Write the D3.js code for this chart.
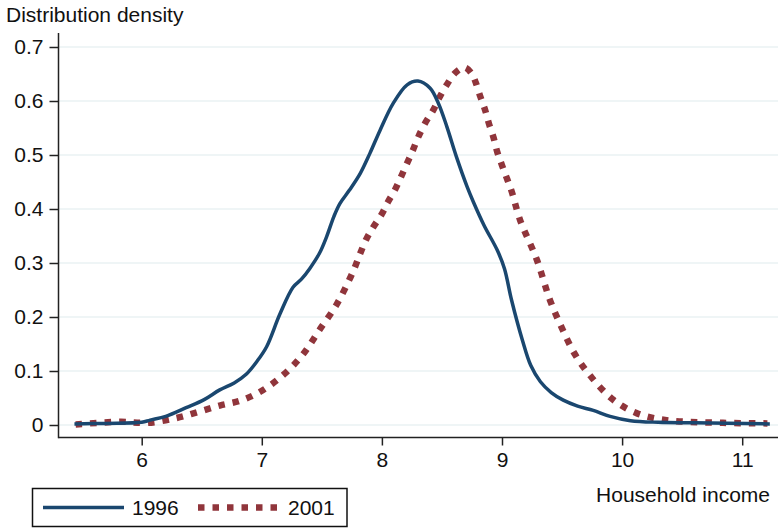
<!DOCTYPE html>
<html>
<head>
<meta charset="utf-8">
<script src="https://cdn.jsdelivr.net/npm/d3@7"></script>
<style>
  html, body { margin: 0; padding: 0; background: #fff; }
  svg { display: block; font-family: "Liberation Sans", Arial, Helvetica, sans-serif; }
</style>
</head>
<body>
<svg id="chart" width="778" height="529"></svg>
<script>
// Kernel density of log household income, 1996 vs 2001
const income1996 = [5.44, 5.7, 6.0, 6.07, 6.2, 6.37, 6.52, 6.65, 6.77, 6.87, 6.96, 7.04, 7.15, 7.26, 7.33, 7.40, 7.48, 7.54, 7.60, 7.65, 7.73, 7.82, 7.90, 7.985, 8.095, 8.21, 8.30, 8.40, 8.47, 8.54, 8.62, 8.71, 8.76, 8.85, 8.96, 9.02, 9.08, 9.17, 9.24, 9.32, 9.41, 9.51, 9.63, 9.76, 9.90, 10.07, 10.3, 10.6, 11.23];
const density1996 = [0.002, 0.003, 0.005, 0.009, 0.016, 0.032, 0.047, 0.065, 0.078, 0.094, 0.118, 0.145, 0.205, 0.255, 0.270, 0.290, 0.318, 0.349, 0.386, 0.410, 0.435, 0.466, 0.503, 0.546, 0.596, 0.630, 0.637, 0.624, 0.596, 0.553, 0.497, 0.441, 0.414, 0.370, 0.324, 0.290, 0.231, 0.157, 0.110, 0.080, 0.060, 0.046, 0.035, 0.027, 0.016, 0.008, 0.005, 0.004, 0.002];

const income2001 = [5.45, 5.82, 6.05, 6.29, 6.47, 6.65, 6.82, 6.99, 7.18, 7.34, 7.48, 7.62, 7.72, 7.78, 7.82, 7.87, 7.93, 8.00, 8.05, 8.11, 8.16, 8.21, 8.26, 8.30, 8.36, 8.43, 8.48, 8.54, 8.61, 8.69, 8.75, 8.78, 8.82, 8.86, 8.89, 8.93, 8.96, 9.00, 9.04, 9.08, 9.15, 9.29, 9.40, 9.50, 9.61, 9.75, 9.93, 10.12, 10.37, 10.84, 11.21];
const density2001 = [0.001, 0.006, 0.004, 0.013, 0.024, 0.036, 0.045, 0.062, 0.093, 0.130, 0.176, 0.222, 0.265, 0.295, 0.318, 0.344, 0.367, 0.391, 0.413, 0.436, 0.460, 0.485, 0.510, 0.532, 0.559, 0.584, 0.607, 0.630, 0.652, 0.662, 0.650, 0.635, 0.608, 0.583, 0.559, 0.532, 0.506, 0.481, 0.457, 0.433, 0.380, 0.306, 0.231, 0.179, 0.130, 0.087, 0.046, 0.022, 0.009, 0.004, 0.003];

const xTicks = [6, 7, 8, 9, 10, 11];
const yTicks = [0, 0.1, 0.2, 0.3, 0.4, 0.5, 0.6, 0.7];
const seriesNames = ["1996", "2001"];

const svg = d3.select("#chart");
const W = 778;

const x = d3.scaleLinear().domain([6, 11]).range([141.7, 742.2]);
const y = d3.scaleLinear().domain([0, 0.7]).range([425, 47]);

const axisLeftX = 58.5;
const axisBottomY = 437.5;

// horizontal grid lines
svg.append("g").selectAll("line").data(yTicks).join("line")
  .attr("x1", axisLeftX).attr("x2", W)
  .attr("y1", d => y(d)).attr("y2", d => y(d))
  .attr("stroke", "#eaf2f3").attr("stroke-width", 1.5);

// y axis
const yAxis = d3.axisLeft(y).tickValues(yTicks).tickSize(9).tickPadding(6)
  .tickFormat(d => d === 0 ? "0" : d3.format(".1f")(d));
const gy = svg.append("g").attr("transform", `translate(${axisLeftX},0)`).call(yAxis);
gy.select(".domain").remove();
gy.append("line").attr("x1", 0).attr("x2", 0).attr("y1", 33).attr("y2", axisBottomY + 0.75)
  .attr("stroke", "#222").attr("stroke-width", 1.5);
gy.selectAll(".tick line").attr("stroke", "#222").attr("stroke-width", 1.5);
gy.selectAll(".tick text").attr("font-size", 21).attr("fill", "#111")
  .attr("font-family", "Liberation Sans, Arial, sans-serif");

// x axis
const xAxis = d3.axisBottom(x).tickValues(xTicks).tickSize(8).tickPadding(7).tickFormat(d3.format("d"));
const gx = svg.append("g").attr("transform", `translate(0,${axisBottomY})`).call(xAxis);
gx.select(".domain").remove();
gx.append("line").attr("x1", axisLeftX).attr("x2", W).attr("y1", 0).attr("y2", 0)
  .attr("stroke", "#222").attr("stroke-width", 1.5);
gx.selectAll(".tick line").attr("stroke", "#222").attr("stroke-width", 1.5);
gx.selectAll(".tick text").attr("font-size", 21).attr("fill", "#111")
  .attr("font-family", "Liberation Sans, Arial, sans-serif");

// axis titles
svg.append("text").attr("x", 6).attr("y", 22).attr("font-size", 21).attr("fill", "#111")
  .text("Distribution density");
svg.append("text").attr("x", 770).attr("y", 502).attr("text-anchor", "end")
  .attr("font-size", 21).attr("fill", "#111").text("Household income");

// density curves
const line = d3.line().x(d => x(d[0])).y(d => y(d[1])).curve(d3.curveCatmullRom.alpha(0.5));
const blue = "#1a476f", red = "#90353b";

svg.append("path").datum(d3.zip(income2001, density2001))
  .attr("d", line).attr("fill", "none").attr("stroke", red)
  .attr("stroke-width", 6.5).attr("stroke-dasharray", "6.5 8");

svg.append("path").datum(d3.zip(income1996, density1996))
  .attr("d", line).attr("fill", "none").attr("stroke", blue)
  .attr("stroke-width", 3.5).attr("stroke-linejoin", "round");

// legend
const lg = svg.append("g");
lg.append("rect").attr("x", 32.5).attr("y", 488.5).attr("width", 314.5).attr("height", 38)
  .attr("fill", "#fff").attr("stroke", "#111").attr("stroke-width", 1.5);
lg.append("line").attr("x1", 43).attr("x2", 124).attr("y1", 507.5).attr("y2", 507.5)
  .attr("stroke", blue).attr("stroke-width", 3.5);
lg.append("text").attr("x", 132).attr("y", 515).attr("font-size", 21).attr("fill", "#111").text(seriesNames[0]);
lg.append("line").attr("x1", 198).attr("x2", 280).attr("y1", 507.5).attr("y2", 507.5)
  .attr("stroke", red).attr("stroke-width", 6.5).attr("stroke-dasharray", "6.5 8");
lg.append("text").attr("x", 288).attr("y", 515).attr("font-size", 21).attr("fill", "#111").text(seriesNames[1]);
</script>
</body>
</html>
